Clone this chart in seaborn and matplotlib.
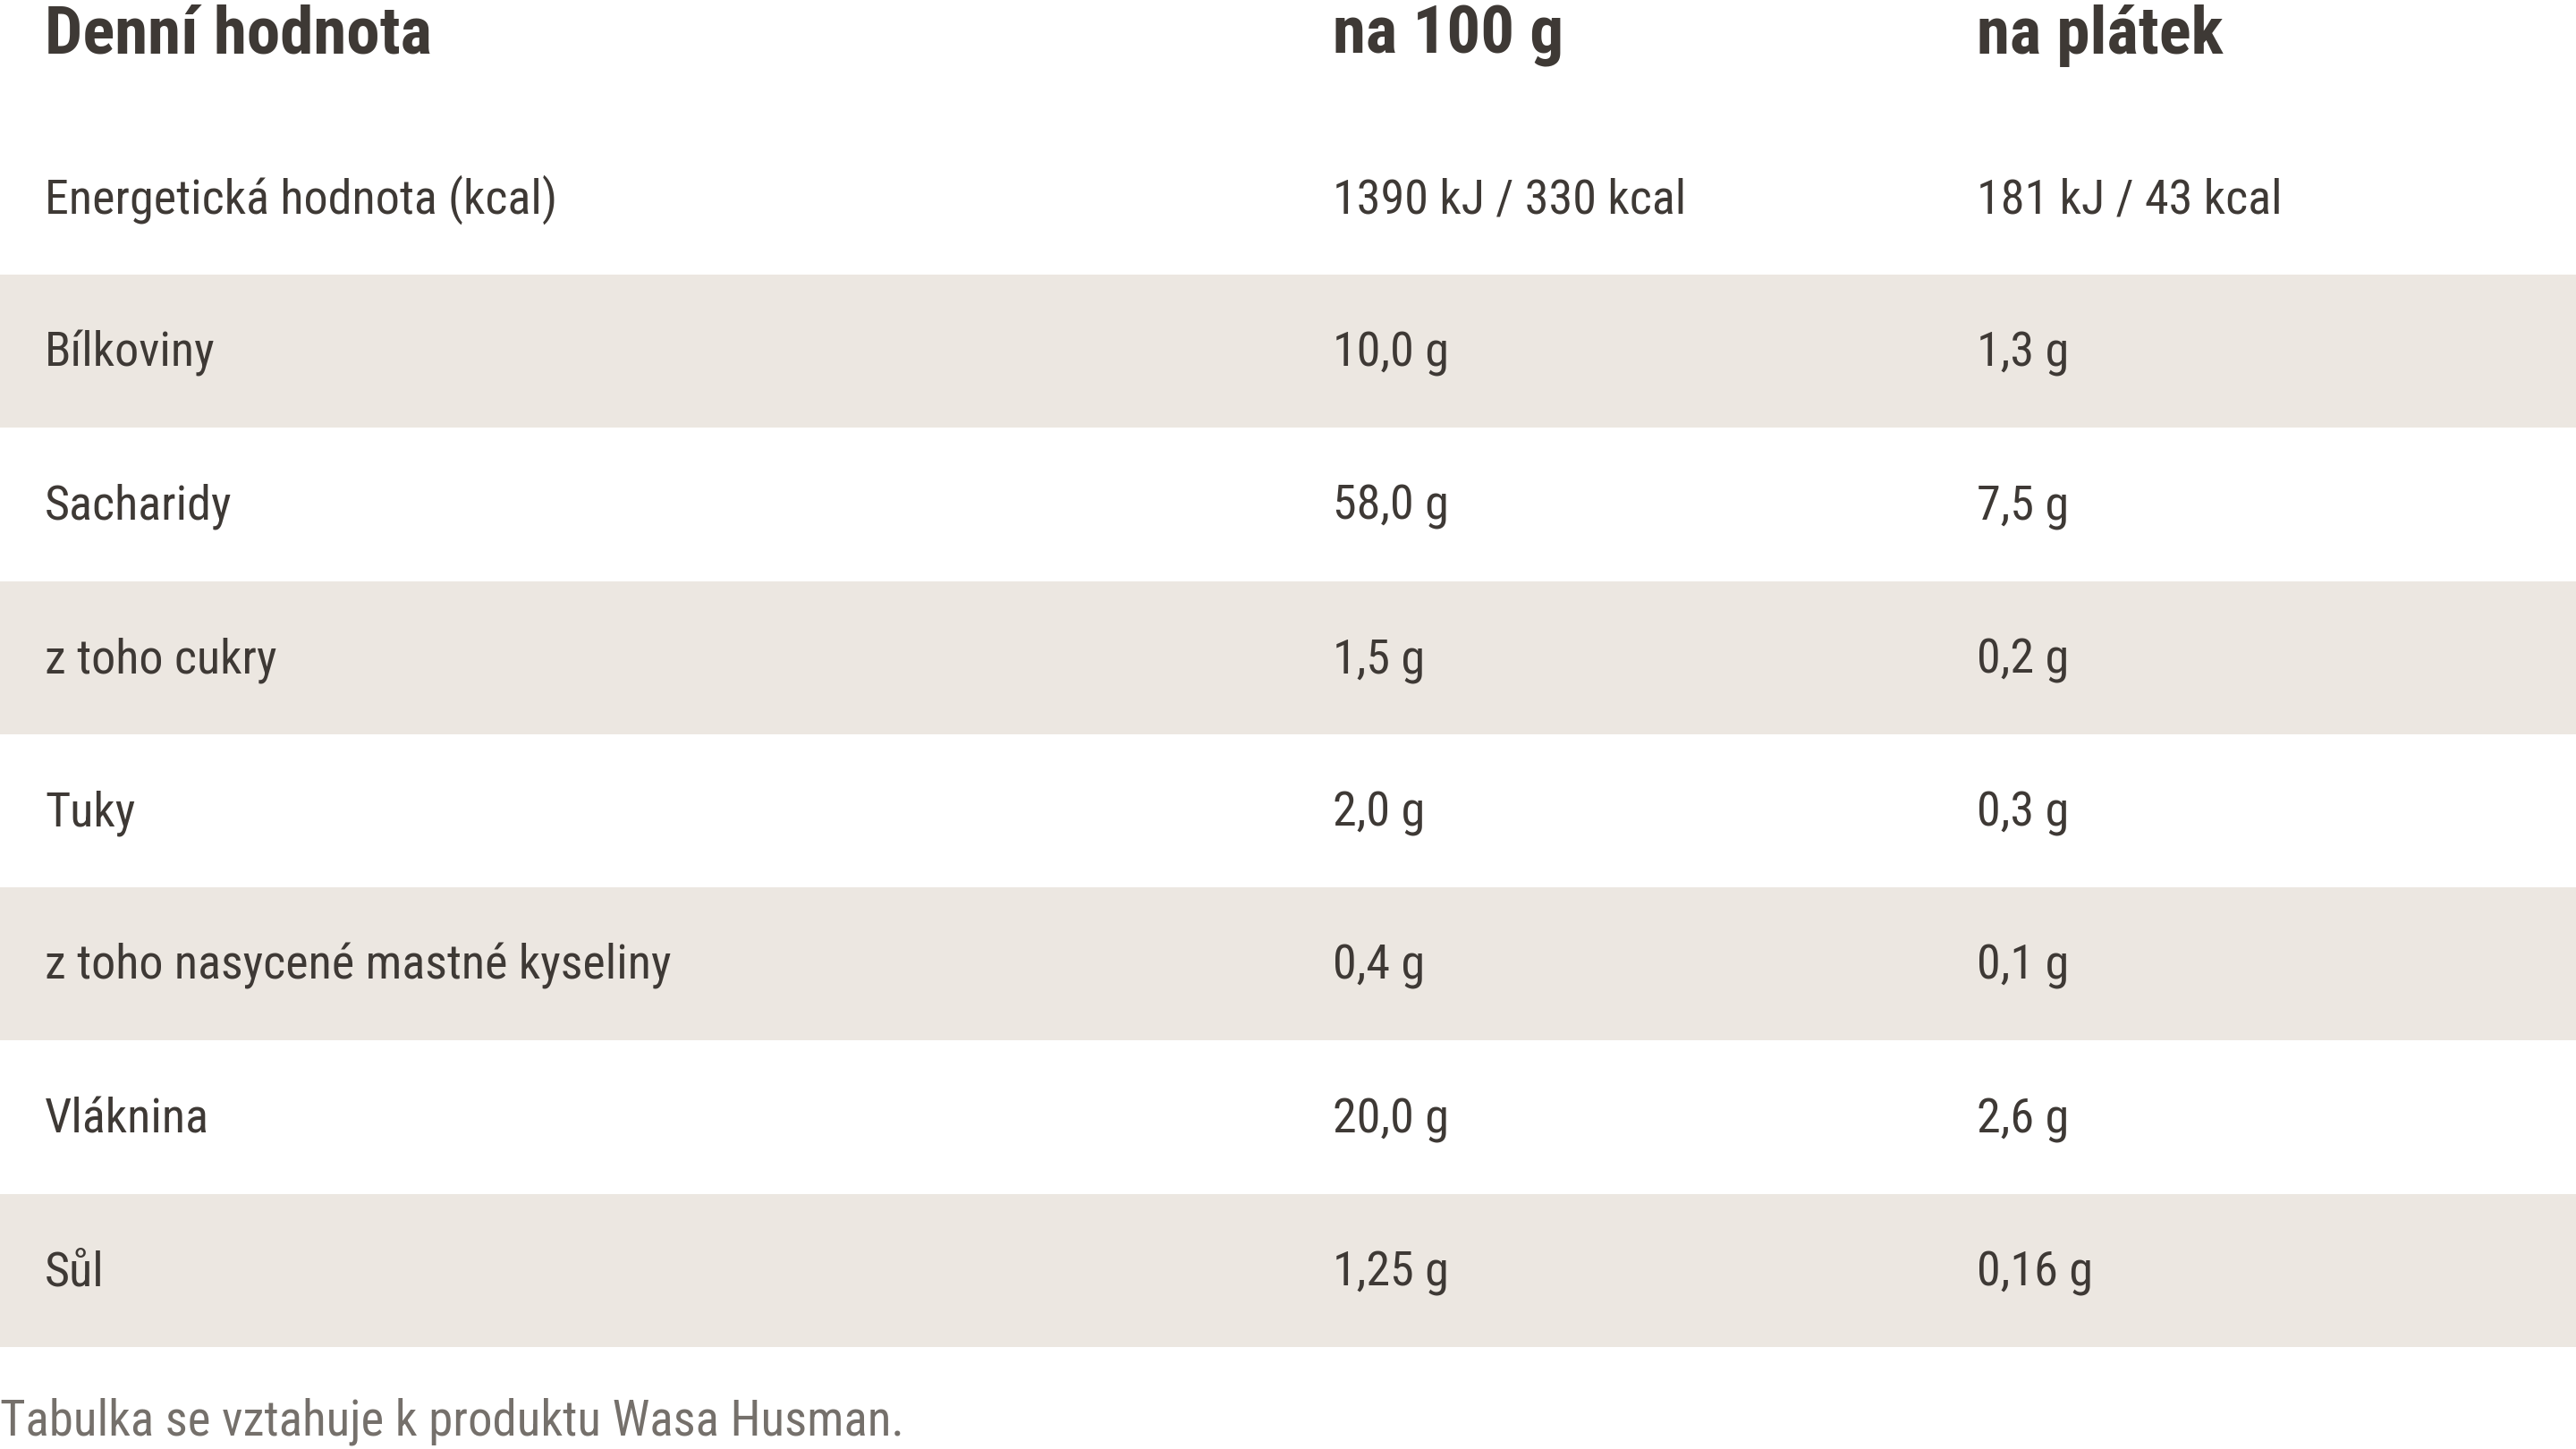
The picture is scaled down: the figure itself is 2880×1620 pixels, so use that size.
import matplotlib
matplotlib.use("Agg")
import matplotlib.pyplot as plt
import seaborn as sns
import pandas as pd

# ---- data ----
headers = ["Denní hodnota", "na 100 g", "na plátek"]
nutrients = ["Energetická hodnota (kcal)", "Bílkoviny", "Sacharidy", "z toho cukry",
             "Tuky", "z toho nasycené mastné kyseliny", "Vláknina", "Sůl"]
per_100g = ["1390 kJ / 330 kcal", "10,0 g", "58,0 g", "1,5 g", "2,0 g", "0,4 g", "20,0 g", "1,25 g"]
per_slice = ["181 kJ / 43 kcal", "1,3 g", "7,5 g", "0,2 g", "0,3 g", "0,1 g", "2,6 g", "0,16 g"]
footnote = "Tabulka se vztahuje k produktu Wasa Husman."

sns.set_theme(style="white")
plt.rcParams["font.family"] = ["Roboto Condensed", "Archivo Narrow", "PT Sans Narrow",
                               "IBM Plex Sans Condensed", "DejaVu Sans"]

TEXT = "#3e3935"
BAND = "#ece7e1"
FOOT = "#75706b"
W = 2880  # figure width in px, used as x scale

fig = plt.figure(figsize=(28.8, 16.2), dpi=100)
ax = fig.add_axes([0, 0, 1, 1])

df = pd.DataFrame({"nutrient": nutrients, "g100": per_100g, "slice": per_slice})
df["row"] = range(len(df))
# shaded stripe on every second row
df["stripe"] = [W if i % 2 == 1 else 0 for i in df["row"]]

sns.barplot(data=df, y="nutrient", x="stripe", orient="h", order=nutrients,
            width=1.0, color=BAND, saturation=1, linewidth=0, errorbar=None, ax=ax)

ax.set_xlim(0, W)
ax.set_ylim(8.165, -1.292)
ax.axis("off")

BASE = 0.099  # baseline offset below row centre (row units)
colx = [50, 1490, 2210]
for x, h in zip(colx, headers):
    ax.text(x, -0.942, h, fontsize=54, fontweight="bold", color=TEXT,
            va="baseline", ha="left")

for _, r in df.iterrows():
    for x, val in zip(colx, [r["nutrient"], r["g100"], r["slice"]]):
        ax.text(x, r["row"] + BASE, val, fontsize=39, color=TEXT,
                va="baseline", ha="left")

ax.text(0, 8.077, footnote, fontsize=39.5, color=FOOT, va="baseline", ha="left")

fig.savefig("out.png", dpi=100, facecolor="white")
